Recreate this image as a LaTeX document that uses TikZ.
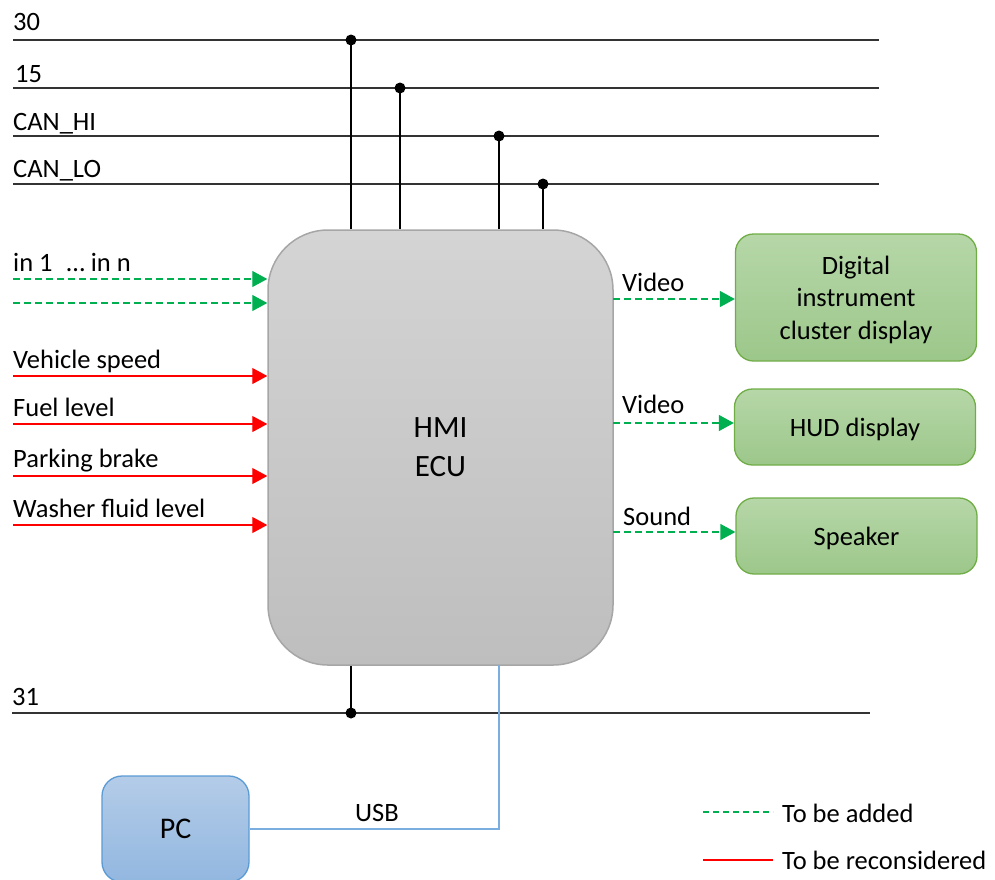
\documentclass[tikz,border=0pt]{standalone}
\usepackage{fontspec}
\setmainfont{Carlito}
\usetikzlibrary{arrows.meta}
\definecolor{gArrow}{HTML}{00B050}
\definecolor{rArrow}{HTML}{FF0000}
\definecolor{busCol}{HTML}{333333}
\definecolor{ecuTop}{HTML}{D4D4D4}
\definecolor{ecuBot}{HTML}{BEBEBE}
\definecolor{ecuLine}{HTML}{A6A6A6}
\definecolor{grTop}{HTML}{B6D7A8}
\definecolor{grBot}{HTML}{9CC78A}
\definecolor{grLine}{HTML}{70AD47}
\definecolor{blTop}{HTML}{B4CCE8}
\definecolor{blBot}{HTML}{92B7E0}
\definecolor{blLine}{HTML}{5B9BD5}
\definecolor{usbCol}{HTML}{7AAEE0}
\tikzset{
  lbl/.style={anchor=base west, inner sep=0pt, font=\fontsize{26.5}{32}\selectfont},
  bus/.style={draw=busCol, line width=1.3pt},
  tap/.style={draw=black, line width=1.2pt},
  jdot/.style={fill=black},
  gdash/.style={draw=gArrow, line width=1.3pt, dash pattern=on 7pt off 4pt,
     -{Triangle[length=15pt,width=16pt]}},
  rline/.style={draw=rArrow, line width=1.3pt, -{Triangle[length=15pt,width=16pt]}},
  ecu/.style={draw=ecuLine, line width=1.5pt, top color=ecuTop, bottom color=ecuBot,
     rounded corners=60pt, minimum width=345pt, minimum height=435pt, inner sep=0pt,
     align=center, text depth=0pt, font=\fontsize{31}{39}\selectfont},
  outbox/.style={draw=grLine, line width=1.3pt, top color=grTop, bottom color=grBot,
     rounded corners=18pt, minimum width=241pt, inner sep=0pt, align=center,
     text depth=0pt, font=\fontsize{26.5}{32.5}\selectfont},
  pcbox/.style={draw=blLine, line width=1.3pt, top color=blTop, bottom color=blBot,
     rounded corners=20pt, minimum width=147pt, minimum height=106pt, inner sep=0pt,
     text depth=0pt, font=\fontsize{30}{36}\selectfont},
  usbl/.style={draw=usbCol, line width=1.3pt}
}
\begin{document}
\begin{tikzpicture}[x=1pt,y=-1pt]
\useasboundingbox (0,0) rectangle (995,879);

% ECU
\node[ecu] (hmi) at (440.5,447.5) {HMI\\ECU};

% bus lines
\coordinate (b30L) at (13,40);  \coordinate (b30R) at (879,40);
\coordinate (b15L) at (13,88);  \coordinate (b15R) at (879,88);
\coordinate (bhiL) at (13,136); \coordinate (bhiR) at (879,136);
\coordinate (bloL) at (13,184); \coordinate (bloR) at (879,184);
\coordinate (b31L) at (12,713); \coordinate (b31R) at (870,713);
\draw[bus] (b30L) -- (b30R);
\draw[bus] (b15L) -- (b15R);
\draw[bus] (bhiL) -- (bhiR);
\draw[bus] (bloL) -- (bloR);
\draw[bus] (b31L) -- (b31R);
\node[lbl] (t30) at (13,30) {30};
\node[lbl] (t15) at (15,82) {15};
\node[lbl] (thi) at (13,130) {CAN\_HI};
\node[lbl] (tlo) at (13,177) {CAN\_LO};
\node[lbl] (t31) at (12,705) {31};

% taps
\coordinate (j30) at (351,40);
\coordinate (j15) at (400,88);
\coordinate (jhi) at (499,136);
\coordinate (jlo) at (543,184);
\coordinate (j31) at (351,713);
\draw[tap] (j30) -- (j30 |- hmi.north);
\draw[tap] (j15) -- (j15 |- hmi.north);
\draw[tap] (jhi) -- (jhi |- hmi.north);
\draw[tap] (jlo) -- (jlo |- hmi.north);
\draw[tap] (j31) -- (j31 |- hmi.south);
\foreach \j in {j30,j15,jhi,jlo,j31} \fill[jdot] (\j) circle (5.5pt);

% inputs
\coordinate (g1) at (13,279);
\coordinate (g2) at (13,303);
\coordinate (r1) at (13,376);
\coordinate (r2) at (13,424);
\coordinate (r3) at (13,476);
\coordinate (r4) at (13,525);
\draw[gdash] (g1) -- (g1 -| hmi.west);
\draw[gdash] (g2) -- (g2 -| hmi.west);
\draw[rline] (r1) -- (r1 -| hmi.west);
\draw[rline] (r2) -- (r2 -| hmi.west);
\draw[rline] (r3) -- (r3 -| hmi.west);
\draw[rline] (r4) -- (r4 -| hmi.west);
\node[lbl] (tin) at (13,271) {in 1\hspace{0.3em} … in n};
\node[lbl] (tvs) at (13,368) {Vehicle speed};
\node[lbl] (tfl) at (13,416) {Fuel level};
\node[lbl] (tpb) at (13,467) {Parking brake};
\node[lbl] (twf) at (13,517) {Washer fluid level};

% outputs
\node[outbox, minimum height=127pt] (dig) at (856,297.5) {Digital\\instrument\\cluster display};
\node[outbox, minimum height=76pt] (hud) at (855,427) {HUD display};
\node[outbox, minimum height=76pt] (spk) at (856.5,536) {Speaker};
\coordinate (o1) at (613,299);
\coordinate (o2) at (613,423);
\coordinate (o3) at (613,532);
\draw[gdash] (o1) -- (o1 -| dig.west);
\draw[gdash] (o2) -- (o2 -| hud.west);
\draw[gdash] (o3) -- (o3 -| spk.west);
\node[lbl] (tv1) at (622,291) {Video};
\node[lbl] (tv2) at (622,413) {Video};
\node[lbl] (tsn) at (623,525) {Sound};

% PC + USB
\node[pcbox] (pc) at (175.5,829) {PC};
\coordinate (usbT) at (499,665);
\draw[usbl] (usbT) |- (pc.east);
\node[anchor=base, inner sep=0pt, font=\fontsize{26.5}{32}\selectfont] (tusb) at (377,821) {USB};

% legend
\coordinate (lg1) at (703,812); \coordinate (lg2) at (773,812);
\coordinate (lr1) at (703,860); \coordinate (lr2) at (773,860);
\draw[draw=gArrow, line width=1.3pt, dash pattern=on 6pt off 4pt] (lg1) -- (lg2);
\draw[draw=rArrow, line width=1.3pt] (lr1) -- (lr2);
\node[lbl] (tadd) at (782,822) {To be added};
\node[lbl] (trec) at (782,869) {To be reconsidered};
\end{tikzpicture}
\end{document}
